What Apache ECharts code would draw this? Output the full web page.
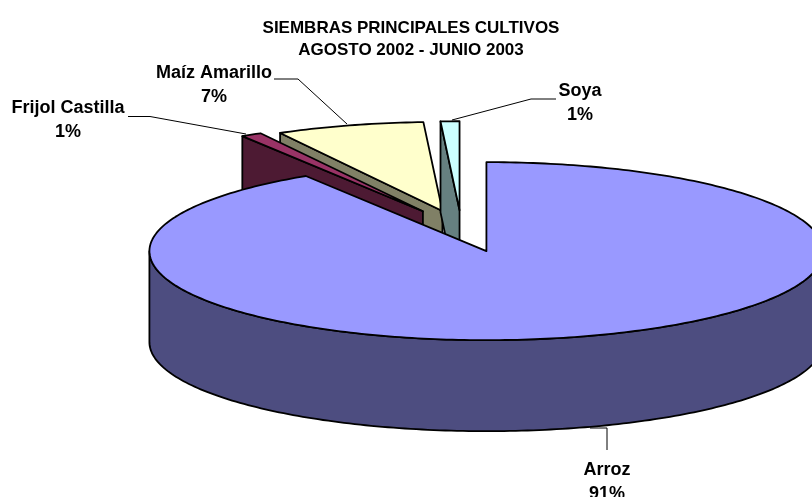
<!DOCTYPE html>
<html>
<head>
<meta charset="utf-8">
<style>html,body{margin:0;padding:0;background:#fff;overflow:hidden}#c{width:812px;height:497px}</style>
<script src="https://cdn.jsdelivr.net/npm/echarts@6/dist/echarts.min.js"></script>
</head>
<body>
<div id="c"></div>
<script>
const categories = ['Arroz', 'Frijol Castilla', 'Maíz Amarillo', 'Soya'];
const values = [91, 1, 7.1, 0.9];
const titleLines = ['SIEMBRAS PRINCIPALES CULTIVOS', 'AGOSTO 2002 - JUNIO 2003'];

// Pie projection and per-slice appearance
const PIE = { cx: 461.5, cy: 228.5, rx: 337, ry: 89, depth: 91 };
const explosion = [0.265, 0.225, 0.205, 0.205];
const topColors = ['#9999ff', '#993366', '#ffffcc', '#ccffff'];
const wallColors = ['#4d4d80', '#4d1a33', '#808066', '#668080'];
const drawOrder = [2, 3, 1, 0].reduce((m, s, i) => (m[s] = 10 + i * 10, m), {});
// Label placement and leader routes
const labelAt = [[607, 458], [68, 96], [214, 61], [580, 79.5]];
const leaders = [
  [[590, 428], [607, 428], [607, 450]],
  [[128, 116.5], [150, 116.5], [246, 134]],
  [[274, 79], [298, 79], [347, 124]],
  [[556, 99], [531, 99], [452, 120]]
];

const total = values.reduce((a, b) => a + b, 0);
const rad = d => d * Math.PI / 180;

function render(params, api) {
  const i = params.dataIndex;
  const v = api.value(1);
  let start = 0;
  for (let k = 0; k < i; k++) start += values[k] / total * 360;
  const end = start + v / total * 360;
  const mid = (start + end) / 2;
  const ax = PIE.cx + explosion[i] * PIE.rx * Math.sin(rad(mid));
  const ay = PIE.cy - explosion[i] * PIE.ry * Math.cos(rad(mid));
  const rim = t => [ax + PIE.rx * Math.sin(rad(t)), ay - PIE.ry * Math.cos(rad(t))];
  const down = p => [p[0], p[1] + PIE.depth];
  const arc = (a, b) => {
    const pts = [], n = Math.max(2, Math.ceil(Math.abs(b - a)));
    for (let k = 0; k <= n; k++) pts.push(rim(a + (b - a) * k / n));
    return pts;
  };
  const base = drawOrder[i];
  const stroke = { stroke: '#000', lineWidth: 1.8, lineJoin: 'round' };
  const poly = (points, fill, z) => ({
    type: 'polygon', z2: z, shape: { points },
    style: Object.assign({ fill }, stroke)
  });
  const children = [];
  const apex = [ax, ay];
  if (Math.sin(rad(start)) < -1e-6) {
    const p = rim(start);
    children.push(poly([apex, p, down(p), down(apex)], wallColors[i], base));
  }
  if (Math.sin(rad(end)) > 1e-6) {
    const p = rim(end);
    children.push(poly([apex, p, down(p), down(apex)], wallColors[i], base));
  }
  const wallA = Math.max(start, 90), wallB = Math.min(end, 270);
  if (wallB > wallA) {
    const top = arc(wallA, wallB);
    children.push(poly(top.concat(top.map(down).reverse()), wallColors[i], base + 1));
  }
  children.push(poly([apex].concat(arc(start, end)), topColors[i], base + 2));

  children.push({
    type: 'polyline', z2: 100, shape: { points: leaders[i] },
    style: { stroke: '#000', lineWidth: 1, fill: 'none' }
  });
  children.push({
    type: 'text', z2: 101, x: labelAt[i][0], y: labelAt[i][1],
    style: {
      text: categories[i] + '\n' + Math.round(v / total * 100) + '%',
      fill: '#000', align: 'center', verticalAlign: 'top',
      font: 'bold 18px "Liberation Sans", Arial, sans-serif', lineHeight: 24
    }
  });
  return { type: 'group', children };
}

const chart = echarts.init(document.getElementById('c'), null, { renderer: 'canvas', width: 812, height: 497 });
chart.setOption({
  animation: false,
  backgroundColor: '#fff',
  title: {
    text: titleLines.join('\n'), left: 406, top: 12, textAlign: 'center',
    textStyle: { fontFamily: '"Liberation Sans", Arial, sans-serif', fontSize: 17, fontWeight: 'bold', color: '#000', lineHeight: 22 }
  },
  series: [{
    type: 'custom',
    coordinateSystem: 'none',
    clip: false,
    renderItem: render,
    data: values.map((v, i) => ({ name: categories[i], value: [i, v] }))
  }]
});
</script>
</body>
</html>
